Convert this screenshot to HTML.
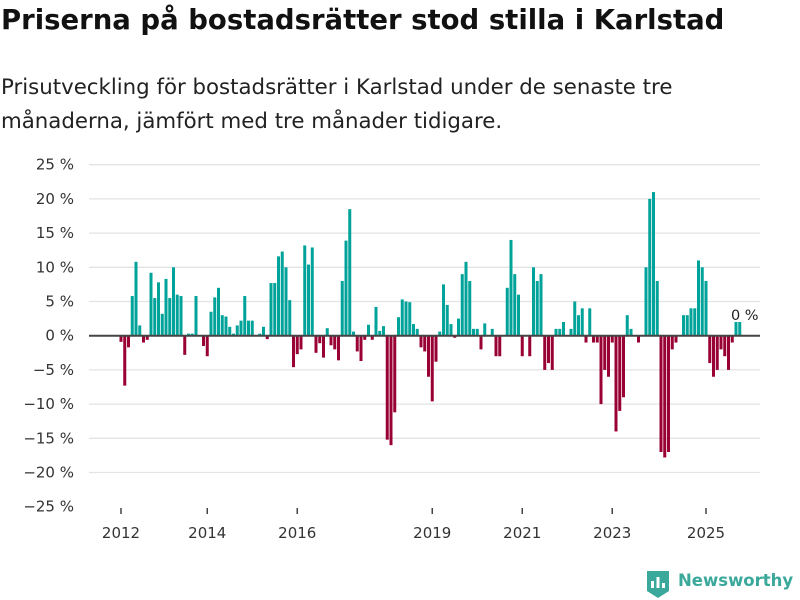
<!DOCTYPE html>
<html><head><meta charset="utf-8"><style>
body{margin:0;background:#fff;font-family:"DejaVu Sans",sans-serif;}
#wrap{position:relative;width:800px;height:600px;overflow:hidden;}
h1{position:absolute;left:1px;top:4px;margin:0;font-size:27.5px;font-weight:bold;color:#111;white-space:nowrap;}
.sub{position:absolute;left:1px;top:71px;margin:0;font-size:21.3px;line-height:34px;color:#222;width:799px;white-space:nowrap;}
</style></head><body>
<div id="wrap">
<h1>Priserna på bostadsrätter stod stilla i Karlstad</h1>
<p class="sub">Prisutveckling för bostadsrätter i Karlstad under de senaste tre<br>månaderna, jämfört med tre månader tidigare.</p>
<svg id="chart" width="800" height="600" style="position:absolute;left:0;top:0"></svg>
<div style="position:absolute;left:646px;top:569px;">
<svg width="24" height="30"><path d="M1 2h22v20l-11 7-11-7z" fill="#3aa89a"/><rect x="5" y="12" width="3" height="7" fill="#fff"/><rect x="10.5" y="8" width="3" height="11" fill="#fff"/><rect x="16" y="14" width="3" height="5" fill="#fff"/></svg>
<span style="position:absolute;left:32px;top:2px;font-size:16.5px;font-weight:bold;color:#3aa89a;white-space:nowrap;">Newsworthy</span>
</div>
</div>
<script>
const values=[-0.9,-7.3,-1.7,5.8,10.8,1.5,-1,-0.6,9.2,5.5,7.8,3.2,8.3,5.5,10,6,5.8,-2.8,0.3,0.3,5.8,0,-1.5,-3,3.5,5.6,7,3,2.8,1.3,0.3,1.5,2.2,5.8,2.2,2.2,0,
0.3,1.3,-0.5,7.7,7.7,11.6,12.3,10,5.2,-4.6,-2.7,-2,13.2,10.4,12.9,-2.5,-1.1,-3.2,1.1,-1.4,-2,-3.6,8,13.9,18.5,0.6,-2.3,-3.7,-0.6,1.6,-0.6,4.2,0.7,1.4,-15.2,-16,-11.2,2.7,5.3,5,4.9,1.7,1,-1.7,
-2.3,-6,-9.6,-3.8,0.6,7.5,4.5,1.7,-0.3,2.5,9,10.8,8,1,1,-2,1.8,0,1,-3,-3,0,7,14,9,6,-3,0,-3,10,8,9,-5,-4,-5,1,1,2,0,1,5,3,4,
-1,4,-1,-1,-10,-5,-6,-1,-14,-11,-9,3,1,0,-1,0,10,20,21,8,-17,-17.8,-17,-2,-1,0,3,3,4,4,11,10,8,-4,-6,-5,-2,-3,-5,-1,2,2];
const yTicks=[25,20,15,10,5,0,-5,-10,-15,-20,-25];
const yearLabels=["2012","2014","2016","2019","2021","2023","2025"];
const yearMonths=[0,23,47,83,107,131,156];
const lastLabel="0 %";
const NS="http://www.w3.org/2000/svg";
const svg=document.getElementById('chart');
const y=v=>335.7-v*6.84;
const x=i=>121+i*3.75;
function mk(t,a){const e=document.createElementNS(NS,t);for(const k in a)e.setAttribute(k,a[k]);svg.appendChild(e);return e;}
yTicks.forEach(t=>{
  if(t!==-25&&t!==0){const g=mk('line',{x1:89,x2:760,y1:y(t),y2:y(t),stroke:'#e3e3e3','stroke-width':1.3});
  
  }
  const l=mk('text',{x:74,y:y(t)+5,'text-anchor':'end','font-size':15,fill:'#333','font-family':'DejaVu Sans, sans-serif'});
  l.textContent=(t<0?'\u2212'+(-t):t)+' %';
  
  
});
values.forEach((v,i)=>{
  const r=mk('rect',{x:x(i)-1.5,width:3,y:Math.min(y(v),y(0)),height:Math.abs(y(v)-y(0)),fill:v>=0?'#00a39a':'#990033'});
  
  
});
const z=mk('line',{x1:89,x2:760,y1:y(0),y2:y(0),stroke:'#444','stroke-width':2});


yearLabels.forEach((lab,k)=>{
  const xx=x(yearMonths[k]);
  const tk=mk('line',{x1:xx,x2:xx,y1:508,y2:514,stroke:'#444','stroke-width':1.5});
  
  
  const t=mk('text',{x:xx,y:538,'text-anchor':'middle','font-size':15,fill:'#333','font-family':'DejaVu Sans, sans-serif'});
  t.textContent=lab;
  
  
});
const li=values.length-1;
const ann=mk('text',{x:x(li)+5,y:y(values[li])-2,'text-anchor':'middle','font-size':14.5,fill:'#222','font-family':'DejaVu Sans, sans-serif'});
ann.textContent=lastLabel;


</script>
</body></html>
